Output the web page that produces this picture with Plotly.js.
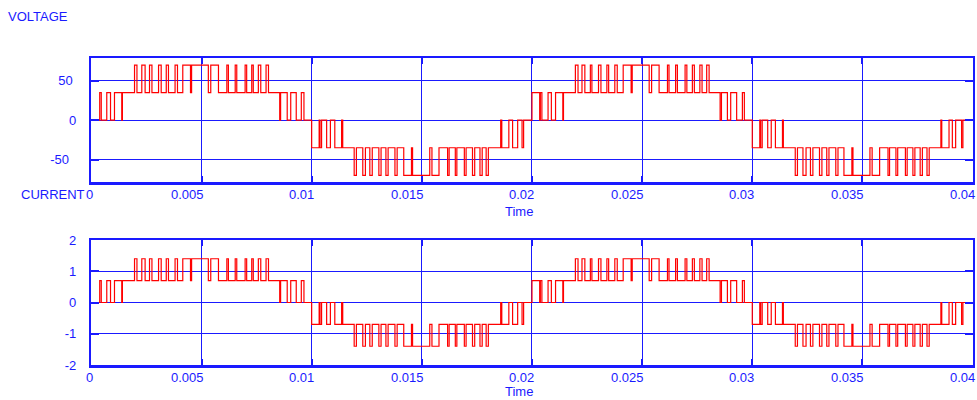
<!DOCTYPE html>
<html>
<head>
<meta charset="utf-8">
<script src="https://cdn.plot.ly/plotly-3.0.1.min.js"></script>
<style>html,body{margin:0;padding:0;background:#fff;}#chart{width:977px;height:400px;}</style>
</head>
<body>
<div id="chart"></div>
<script>
var switchTimesMs = [
  0, 0.38, 0.45, 0.70, 0.87, 1.05, 1.38, 1.41,
  1.96, 2.07, 2.29, 2.44, 2.64, 2.75, 3.05, 3.17, 3.40, 3.50, 3.80, 3.91, 4.15, 4.50, 4.55,
  5.31, 5.42, 5.77, 6.15, 6.22, 6.53, 6.60, 6.98, 7.05, 7.28, 7.35, 7.58, 7.69, 7.93, 8.04,
  8.55, 8.59, 8.89, 9.05, 9.30, 9.53, 9.65,
  10.00, 10.34, 10.38, 10.45, 10.68, 10.85, 11.05, 11.36, 11.41,
  11.93, 12.03, 12.32, 12.44, 12.64, 12.75, 13.05, 13.15, 13.37, 13.47, 13.78, 13.88, 14.18, 14.53, 14.58,
  15.36, 15.46, 15.78, 16.17, 16.24, 16.52, 16.59, 16.93, 17.01, 17.30, 17.40, 17.64, 17.74, 17.92, 18.02,
  18.58, 18.63, 18.95, 19.12, 19.35, 19.55, 19.62,
  20.00, 20.35, 20.38, 20.45, 20.73, 20.88, 21.07, 21.40, 21.43,
  21.97, 22.09, 22.27, 22.40, 22.65, 22.72, 23.02, 23.13, 23.40, 23.48, 23.76, 23.87, 24.14, 24.50, 24.55,
  25.32, 25.43, 25.77, 26.15, 26.22, 26.52, 26.60, 26.95, 27.03, 27.28, 27.37, 27.62, 27.72, 27.93, 28.04,
  28.54, 28.60, 28.87, 29.02, 29.29, 29.55, 29.64,
  30.00, 30.34, 30.38, 30.45, 30.70, 30.86, 31.05, 31.37, 31.41,
  31.95, 32.05, 32.30, 32.44, 32.64, 32.75, 33.05, 33.16, 33.38, 33.48, 33.79, 33.89, 34.16, 34.52, 34.57,
  35.34, 35.44, 35.78, 36.16, 36.23, 36.52, 36.60, 36.95, 37.03, 37.29, 37.38, 37.62, 37.72, 37.93, 38.03,
  38.56, 38.60, 38.93, 39.08, 39.23, 39.50, 39.56
];
var switchLevels = [
  0, 1, 0, 1, 0, 1, 0, 1,
  2, 1, 2, 1, 2, 1, 2, 1, 2, 1, 2, 1, 2, 1, 2,
  1, 2, 1, 2, 1, 2, 1, 2, 1, 2, 1, 2, 1, 2, 1,
  0, 1, 0, 1, 0, 1, 0,
  -1, 0, -1, 0, -1, 0, -1, 0, -1,
  -2, -1, -2, -1, -2, -1, -2, -1, -2, -1, -2, -1, -2, -1, -2,
  -1, -2, -1, -2, -1, -2, -1, -2, -1, -2, -1, -2, -1, -2, -1,
  0, -1, 0, -1, 0, -1, 0,
  1, 0, 1, 0, 1, 0, 1, 0, 1,
  2, 1, 2, 1, 2, 1, 2, 1, 2, 1, 2, 1, 2, 1, 2,
  1, 2, 1, 2, 1, 2, 1, 2, 1, 2, 1, 2, 1, 2, 1,
  0, 1, 0, 1, 0, 1, 0,
  -1, 0, -1, 0, -1, 0, -1, 0, -1,
  -2, -1, -2, -1, -2, -1, -2, -1, -2, -1, -2, -1, -2, -1, -2,
  -1, -2, -1, -2, -1, -2, -1, -2, -1, -2, -1, -2, -1, -2, -1,
  0, -1, 0, -1, 0, -1, 0
];
var voltageLevels = {"-2": -70, "-1": -35, "0": 0, "1": 35, "2": 70};
var currentLevels = {"-2": -1.4, "-1": -0.7, "0": 0, "1": 0.7, "2": 1.4};
var endTime = 0.04;
var xTickVals = [0, 0.005, 0.01, 0.015, 0.02, 0.025, 0.03, 0.035, 0.04];
var xTickText = ["0", "0.005", "0.01", "0.015", "0.02", "0.025", "0.03", "0.035", "0.04"];
var vTickVals = [-50, 0, 50];
var vTickText = ["-50\u00a0\u00a0", "0", "50\u00a0"];
var cTickVals = [-2, -1, 0, 1, 2];
var cTickText = ["-2", "-1", "0", "1", "2"];

var x = [], yv = [], yc = [];
for (var i = 0; i < switchTimesMs.length; i++) {
  x.push(switchTimesMs[i] / 1000);
  yv.push(voltageLevels[String(switchLevels[i])]);
  yc.push(currentLevels[String(switchLevels[i])]);
}
x.push(endTime); yv.push(yv[yv.length - 1]); yc.push(yc[yc.length - 1]);

var blue = "#1a1aff";
var font = {family: "Liberation Sans, Arial, sans-serif", size: 13, color: blue};
function xax(anchor) {
  return {domain: [0.0935, 0.9955], range: [0, 0.04], anchor: anchor, tickvals: xTickVals, showticklabels: false,
    showgrid: true, gridcolor: blue, gridwidth: 1, zeroline: false, showline: true, linecolor: blue, linewidth: 2.5,
    mirror: "ticks", ticks: "inside", ticklen: 6, tickwidth: 2, tickcolor: blue, fixedrange: true};
}
function yax(anchor, dom, rng, tv, tt) {
  return {domain: dom, range: rng, anchor: anchor, tickvals: tv, ticktext: tt, showgrid: true, gridcolor: blue, gridwidth: 1,
    zeroline: false, showline: true, linecolor: blue, linewidth: 2.5, mirror: "ticks", ticks: "inside", ticklen: 8,
    tickwidth: 2, tickcolor: blue, tickfont: font, ticklabelstandoff: 10, fixedrange: true};
}
var traces = [
  {x: x, y: yv, xaxis: "x", yaxis: "y", type: "scatter", mode: "lines", line: {color: "#ff0000", width: 1.2, shape: "hv"}, hoverinfo: "skip"},
  {x: x, y: yc, xaxis: "x2", yaxis: "y2", type: "scatter", mode: "lines", line: {color: "#ff0000", width: 1.2, shape: "hv"}, hoverinfo: "skip"}
];
var ann = [
  {text: "VOLTAGE", xref: "paper", yref: "paper", x: 7 / 977, y: 1 - 16 / 400, xanchor: "left", yanchor: "middle", showarrow: false, font: font, borderpad: 0},
  {text: "CURRENT", xref: "paper", yref: "paper", x: 86 / 977, y: 1 - 194 / 400, xanchor: "right", yanchor: "middle", showarrow: false, font: font, borderpad: 0},
  {text: "Time", xref: "paper", yref: "paper", x: 519 / 977, y: 1 - 211 / 400, xanchor: "center", yanchor: "middle", showarrow: false, font: font, borderpad: 0},
  {text: "Time", xref: "paper", yref: "paper", x: 519 / 977, y: 1 - 391 / 400, xanchor: "center", yanchor: "middle", showarrow: false, font: font, borderpad: 0}
];
for (var k = 0; k < xTickVals.length; k++) {
  ann.push({text: xTickText[k], xref: "x", yref: "paper", x: xTickVals[k], y: 1 - 194 / 400, xanchor: "right", yanchor: "middle", xshift: 3, showarrow: false, font: font, borderpad: 0});
  ann.push({text: xTickText[k], xref: "x2", yref: "paper", x: xTickVals[k], y: 1 - 377 / 400, xanchor: "right", yanchor: "middle", xshift: 3, showarrow: false, font: font, borderpad: 0});
}
var layout = {
  width: 977, height: 400, margin: {l: 0, r: 0, t: 0, b: 0}, paper_bgcolor: "#fff", plot_bgcolor: "#fff",
  showlegend: false, font: font,
  xaxis: xax("y"), yaxis: yax("x", [0.544, 0.855], [-79, 79], vTickVals, vTickText),
  xaxis2: xax("y2"), yaxis2: yax("x2", [0.0875, 0.4], [-2, 2], cTickVals, cTickText),
  annotations: ann
};
Plotly.newPlot("chart", traces, layout, {staticPlot: true, displayModeBar: false});
</script>
</body>
</html>
